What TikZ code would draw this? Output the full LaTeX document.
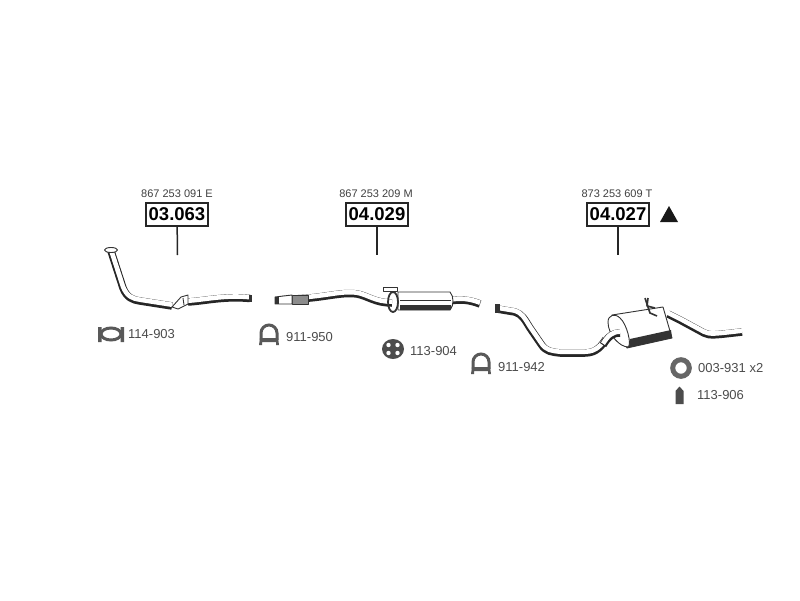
\documentclass[tikz,border=0pt]{standalone}
\usepackage{fontspec}
\setmainfont{Liberation Sans}
\tikzset{
	partno/.style={font=\fontsize{11}{11}\selectfont,text=black!75},
	refbox/.style={draw=black!85,line width=1.6pt,fill=white,minimum width=62pt,minimum height=23pt,font=\bfseries\fontsize{18.5}{18.5}\selectfont},
	stem/.style={draw=black!85,line width=1.5pt},
	fitno/.style={font=\fontsize{13}{13}\selectfont,text=black!70,anchor=west},
	tubeedge/.style={draw=black!85,line width=7.5pt,line join=round},
	tubefill/.style={draw=white,line width=4.6pt,line join=round,yshift=1.3pt},
	thinedge/.style={draw=black!80,line width=0.9pt,line join=round},
	clampedge/.style={draw=black!65,line width=3pt}
}
\newcommand{\tube}[1]{\draw[tubeedge] #1; \draw[tubefill] #1;}
\begin{document}
\begin{tikzpicture}[x=1pt,y=-1pt]
	\tikzstyle{every node}+=[inner sep=0pt]
	\useasboundingbox (0,0) rectangle (800,600);
	\fill [white] (0,0) rectangle (800,600);
	\node [refbox] (boxa) at (177,214.5) {03.063};
	\node [refbox] (boxb) at (377,214.5) {04.029};
	\node [refbox] (boxc) at (618,214.5) {04.027};
	\node [partno] (noa) at (177,193.5) {867 253 091 E};
	\node [partno] (nob) at (376,193.5) {867 253 209 M};
	\node [partno] (noc) at (617,193.5) {873 253 609 T};
	\coordinate (enda) at (177.5,255);
	\coordinate (endb) at (377,255);
	\coordinate (endc) at (618,255);
	\draw [stem] (boxa) -- (enda);
	\draw [stem] (boxb) -- (endb);
	\draw [stem] (boxc) -- (endc);
	\fill [black!90] (660,222) -- (678,222) -- (669,206) -- cycle;
	% front pipe
	\tube{(111,251) -- (123,288) .. controls (127,298) and (133,300) .. (140,301) -- (172,306)}
	\tube{(188,302) .. controls (205,301) and (225,296) .. (250,298.5)}
	\draw [thinedge,fill=white] (172,307) -- (181,297) -- (188,295) -- (188,304) -- (178,309) -- cycle;
	\draw [thinedge] (183,298) -- (184,305);
	\draw [thinedge,fill=white] (111,250) ellipse (6.5 and 2.5);
	\fill [black!80] (249,295) rectangle (252,302);
	% centre pipe and silencer
	\tube{(278,300) -- (310,298) .. controls (330,296) and (345,292) .. (357,294) .. controls (368,296) and (375,303) .. (392,303)}
	\draw [thinedge,fill=black!45] (292,295) rectangle (308,304);
	\draw [thinedge,fill=white] (275,297) -- (292,295) -- (292,304) -- (275,304) -- cycle;
	\fill [black!80] (275,297) rectangle (279,304);
	\tube{(450,301) .. controls (460,299) and (470,300) .. (480,304)}
	\draw [thinedge,fill=white] (398,292) -- (450,292) .. controls (454,296) and (454,306) .. (450,310) -- (398,310) -- cycle;
	\draw [black!80,line width=0.9pt] (400,300) -- (451,300);
	\fill [black!80] (400,305) -- (451,305) .. controls (452,307) and (452,309) .. (450,310) -- (400,310) -- cycle;
	\draw [thinedge,line width=1.8pt] (393,302) ellipse (5 and 10);
	\draw [thinedge,fill=white] (383,287) rectangle (397,291);
	% rear pipe and silencer
	\tube{(497,309) -- (515,312) .. controls (522,314) and (525,320) .. (530,328) -- (541,344) .. controls (546,352) and (552,352) .. (560,353) -- (585,353) .. controls (597,353) and (602,345) .. (606,339)}
	\fill [black!80] (495,304) rectangle (500,313);
	\draw [thinedge,fill=white] (612,315) -- (663,307) -- (672,338) -- (627,348) -- cycle;
	\fill [black!80] (630,339) -- (671,330) -- (672,338) -- (627,348) -- cycle;
	\draw [thinedge,fill=white] (628,347) .. controls (620,347) and (608,335) .. (608,322) .. controls (608,315) and (615,313) .. (620,318) .. controls (627,324) and (632,345) .. (628,347) -- cycle;
	\tube{(603,345) .. controls (608,337) and (612,333) .. (620,333)}
	\tube{(668,314) -- (680,320) -- (704,333) .. controls (710,336) and (715,335) .. (742,332)}
	\draw [thinedge,line width=1.6pt] (645,298) -- (650,313) -- (657,316);
	\draw [thinedge,line width=1.6pt] (648,298) -- (647,306) -- (655,308);
	% fittings
	\draw [clampedge] (111,334) ellipse (10 and 6);
	\fill [black!65] (98,327) rectangle (101.5,342) (120.5,327) rectangle (124,342);
	\node [fitno] (fita) at (128,334) {114-903};
	\draw [clampedge] (261,340) -- (261,333) arc (180:360:8) -- (277,340);
	\fill [black!65] (260,338) -- (278,338) -- (279,345) -- (276,345) -- (276,342) -- (262,342) -- (262,345) -- (259,345) -- cycle;
	\node [fitno] (fitb) at (286,337) {911-950};
	\fill [black!70] (393,349) ellipse (11 and 10);
	\fill [white] (388.5,345) circle (2.2) (397.5,345) circle (2.2) (388.5,353) circle (2.2) (397.5,353) circle (2.2);
	\node [fitno] (fitc) at (410,351) {113-904};
	\draw [clampedge] (473,369) -- (473,362) arc (180:360:8) -- (489,369);
	\fill [black!65] (472,367) -- (490,367) -- (491,374) -- (488,374) -- (488,371) -- (474,371) -- (474,374) -- (471,374) -- cycle;
	\node [fitno] (fitd) at (498,367) {911-942};
	\draw [black!60,line width=5pt] (681,368) circle (8.3);
	\node [fitno] (fite) at (698,368) {003-931 x2};
	\fill [black!70] (675.5,404) -- (675.5,391) -- (679.5,386.5) -- (683.5,391) -- (683.5,404) -- cycle;
	\node [fitno] (fitf) at (697,395.5) {113-906};
\end{tikzpicture}
\end{document}
